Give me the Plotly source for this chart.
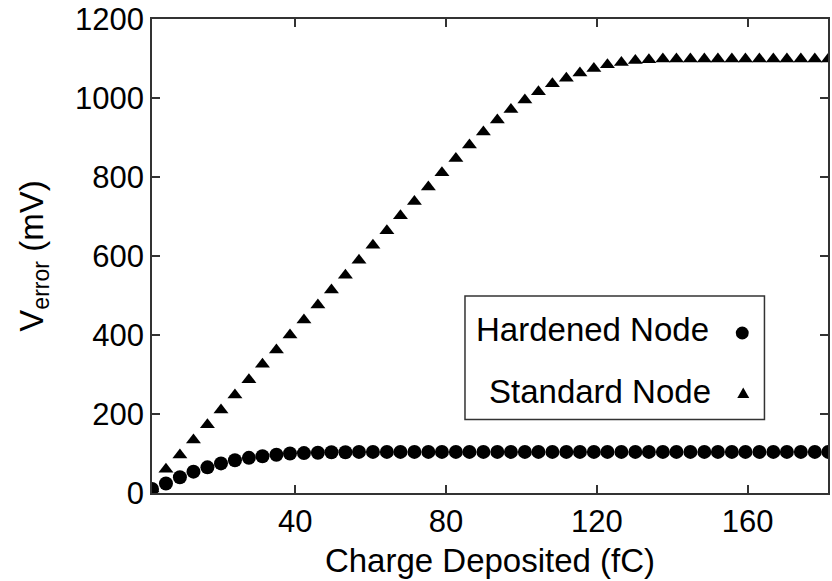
import plotly.graph_objects as go

charge_fC = [2.0, 5.7, 9.4, 13.0, 16.7, 20.3, 24.0, 27.7, 31.3, 35.0,
             38.6, 42.3, 46.0, 49.6, 53.3, 56.9, 60.6, 64.3, 67.9, 71.6,
             75.3, 78.9, 82.6, 86.2, 89.9, 93.6, 97.2, 100.9, 104.5, 108.2,
             111.9, 115.5, 119.2, 122.8, 126.5, 130.2, 133.8, 137.5, 141.1, 144.8,
             148.5, 152.1, 155.8, 159.4, 163.1, 166.8, 170.4, 174.1, 177.8, 181.4]

hardened_mV = [10, 24, 40, 54, 65, 75, 83, 89, 93, 97,
               100, 101, 102, 103, 103, 104, 104, 104, 104, 104,
               104, 104, 104, 104, 104, 104, 104, 104, 104, 104,
               104, 104, 104, 104, 104, 104, 104, 104, 104, 104,
               104, 104, 104, 104, 104, 104, 104, 104, 104, 104]

standard_mV = [10, 60, 96, 134, 173, 210, 248, 287, 326, 362,
               400, 438, 476, 514, 551, 589, 627, 664, 702, 738,
               775, 811, 847, 881, 914, 944, 971, 995, 1016, 1036,
               1050, 1063, 1075, 1084, 1090, 1095, 1097, 1099, 1099, 1099,
               1099, 1099, 1099, 1099, 1099, 1099, 1099, 1099, 1099, 1099]

x_ticks = [40, 80, 120, 160]
y_ticks = [0, 200, 400, 600, 800, 1000, 1200]
legend_labels = ["Hardened Node", "Standard Node"]

FONT = "Liberation Sans, Arial, sans-serif"
AX = "#333333"

fig = go.Figure()
fig.add_trace(go.Scatter(x=charge_fC, y=standard_mV, mode="markers",
                         name=legend_labels[1],
                         marker=dict(symbol="triangle-up", size=13, color="black")))
fig.add_trace(go.Scatter(x=charge_fC, y=hardened_mV, mode="markers",
                         name=legend_labels[0],
                         marker=dict(symbol="circle", size=14, color="black")))

fig.update_layout(
    width=832, height=581,
    margin=dict(l=152, r=2, t=19, b=88),
    paper_bgcolor="white", plot_bgcolor="white",
    showlegend=False,
    font=dict(family=FONT, color="black", size=31),
    xaxis=dict(range=[2, 181.3], tickvals=x_ticks, ticks="inside", ticklen=8,
               tickcolor=AX, tickwidth=1.5, showline=True, linecolor=AX,
               linewidth=1.5, mirror="ticks", showgrid=False, zeroline=False,
               tickfont=dict(size=31, color="black"),
               title=dict(text="Charge Deposited (fC)", font=dict(size=33), standoff=11)),
    yaxis=dict(range=[0, 1200], tickvals=y_ticks, ticks="inside", ticklen=8,
               tickcolor=AX, tickwidth=1.5, showline=True, linecolor=AX,
               linewidth=1.5, mirror="ticks", showgrid=False, zeroline=False,
               tickfont=dict(size=31, color="black"),
               title=dict(text="V<sub>error</sub> (mV)", font=dict(size=33), standoff=22)),
)

# legend box with text on the left and symbol on the right
fig.add_shape(type="rect", xref="paper", yref="paper",
              x0=0.463, x1=0.906, y0=0.155, y1=0.4155,
              line=dict(color=AX, width=1.5), fillcolor="white", layer="above")
fig.add_annotation(xref="paper", yref="paper", x=0.8274, y=0.3458,
                   text=legend_labels[0], showarrow=False, xanchor="right",
                   yanchor="middle", font=dict(size=33, color="black"))
fig.add_annotation(xref="paper", yref="paper", x=0.8304, y=0.2148,
                   text=legend_labels[1], showarrow=False, xanchor="right",
                   yanchor="middle", font=dict(size=33, color="black"))
# legend swatches
fig.add_shape(type="circle", xref="paper", yref="paper",
              x0=0.8636, x1=0.8827, y0=0.3238, y1=0.3513,
              line=dict(width=0), fillcolor="black", layer="above")
fig.add_shape(type="path", xref="paper", yref="paper",
              path="M 0.8658,0.2004 L 0.8835,0.2004 L 0.8746,0.2226 Z",
              line=dict(width=0), fillcolor="black", layer="above")

fig.write_html("out.html")
